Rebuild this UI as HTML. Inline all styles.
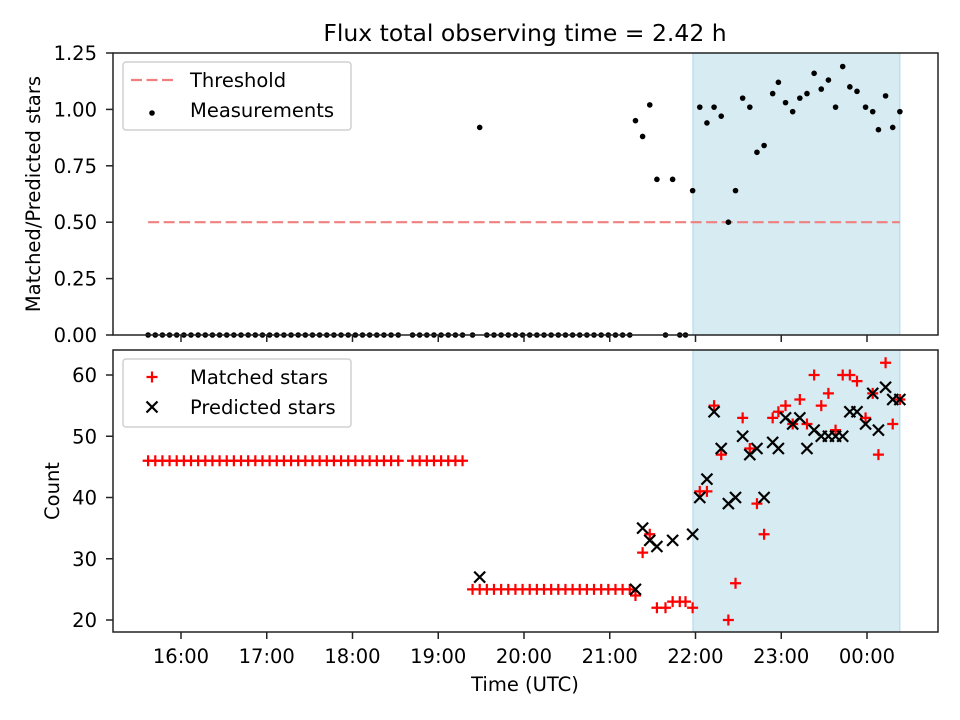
<!DOCTYPE html>
<html><head><meta charset="utf-8"><style>
body{margin:0;background:#fff}
svg{display:block;font-family:"DejaVu Sans","Liberation Sans",sans-serif}
</style></head><body>
<svg id="chart" width="960" height="720" viewBox="0 0 960 720" xmlns="http://www.w3.org/2000/svg"></svg>
<script>
const times = [-23,-18,-13,-8,-3,2,7,12,17,22,27,32,37,42,47,52,57,62,67,72,77,82,87,92,97,102,107,112,117,122,127,132,137,142,147,152,
162,167,172,177,182,187,192,197,
204,209,214,219,224,229,234,239,244,249,254,259,264,269,274,279,284,289,294,299,304,309,314,
318,323,328,333,339,344,349,353,358,363,368,373,378,383,388,393,398,403,408,414,418,423,428,433,438,443,448,453,458,463,468,473,479,484,488,493,498,503];
const ratioGroups = [
 [0,0,0,0,0,0,0,0,0,0,0,0,0,0,0,0,0,0,0,0,0,0,0,0,0,0,0,0,0,0,0,0,0,0,0,0],
 [0,0,0,0,0,0,0,0],
 [0,0.92,0,0,0,0,0,0,0,0,0,0,0,0,0,0,0,0,0,0,0,0,0],
 [.95,.88,1.02,.69,0,.69,0,0,.64,1.01,.94,1.01,.97,.50,.64,1.05,1.01,.81,.84,1.07,1.12,1.03,.99,1.05,1.07,1.16,1.09,1.13,1.01,1.19,1.10,1.08,1.01,.99,.91,1.06,.92,.99]
];
const matchedGroups = [
 [46,46,46,46,46,46,46,46,46,46,46,46,46,46,46,46,46,46,46,46,46,46,46,46,46,46,46,46,46,46,46,46,46,46,46,46],
 [46,46,46,46,46,46,46,46],
 [25,25,25,25,25,25,25,25,25,25,25,25,25,25,25,25,25,25,25,25,25,25,25],
 [24,31,34,22,22,23,23,23,22,41,41,55,47,20,26,53,48,39,34,53,54,55,52,56,52,60,55,57,51,60,60,59,53,57,47,62,52,56]
];
const predictedGroups = [
 new Array(36).fill(null),
 new Array(8).fill(null),
 [null,27,null,null,null,null,null,null,null,null,null,null,null,null,null,null,null,null,null,null,null,null,null],
 [25,35,33,32,null,33,null,null,34,40,43,54,48,39,40,50,47,48,40,49,48,53,52,53,48,51,50,50,50,50,54,54,52,57,51,58,56,56]
];
const ratio = [].concat(...ratioGroups);
const matched = [].concat(...matchedGroups);
const predicted = [].concat(...predictedGroups);
const xTickMinutes = [0,60,120,180,240,300,360,420,480];
const xTickLabels = ["16:00","17:00","18:00","19:00","20:00","21:00","22:00","23:00","00:00"];
const topTicks = [0,0.25,0.5,0.75,1.0,1.25];
const topTickLabels = ["0.00","0.25","0.50","0.75","1.00","1.25"];
const botTicks = [20,30,40,50,60];
const threshold = 0.5;
const shadeStart = 358.2, shadeEnd = 503;

const svg = document.getElementById('chart');
const NS = 'http://www.w3.org/2000/svg';
function mk(tag, attrs, parent){const e=document.createElementNS(NS,tag);for(const k in attrs)e.setAttribute(k,attrs[k]);(parent||svg).appendChild(e);return e;}
const L=113,R=938, T1=53,B1=335, T2=350,B2=632;
const FS = 19.5;
const xs = t => 181 + (t)*85.75/60;
const y1 = v => B1 - v/1.25*(B1-T1);
const y2 = v => 620 - (v-20)*6.125;

let t = mk('text',{x:525,y:41,'text-anchor':'middle','font-size':'23.5'}); t.textContent='Flux total observing time = 2.42 h';
 

function panel(top,bot,name){
  const g = mk('g',{});  
  const sh = mk('rect',{x:xs(shadeStart),y:top,width:xs(shadeEnd)-xs(shadeStart),height:bot-top,fill:'#add8e6','fill-opacity':0.5,stroke:'#add8e6','stroke-width':1},g);
   
  return g;
}
const gTop = panel(T1,B1,'ratio-panel');
const gBot = panel(T2,B2,'count-panel');

const th = mk('line',{x1:xs(-23),x2:xs(503),y1:y1(threshold),y2:y1(threshold),stroke:'#f08080','stroke-width':2.2,'stroke-dasharray':'11,4.5'},gTop);
 

for(let i=0;i<times.length;i++){
  const c = mk('circle',{cx:xs(times[i]),cy:y1(ratio[i]),r:2.8,fill:'#000'},gTop);
   
}
for(let i=0;i<times.length;i++){
  if(matched[i]==null) continue;
  const x=xs(times[i]), y=y2(matched[i]);
  const p = mk('path',{d:`M${x-5.5},${y}H${x+5.5}M${x},${y-5.5}V${y+5.5}`,stroke:'#f00','stroke-width':2.2},gBot);
   
}
for(let i=0;i<times.length;i++){
  if(predicted[i]==null) continue;
  const x=xs(times[i]), y=y2(predicted[i]);
  const p = mk('path',{d:`M${x-5.5},${y-5.5}L${x+5.5},${y+5.5}M${x-5.5},${y+5.5}L${x+5.5},${y-5.5}`,stroke:'#000','stroke-width':2.2},gBot);
   
}

[[T1,B1,'ratio-axes-frame'],[T2,B2,'count-axes-frame']].forEach(([a,b,n])=>{
  const r = mk('rect',{x:L,y:a,width:R-L,height:b-a,fill:'none',stroke:'#222','stroke-width':1.5});
   
});
xTickMinutes.forEach((m,i)=>{
  const x=xs(m);
  mk('line',{x1:x,x2:x,y1:B1,y2:B1+7,stroke:'#222','stroke-width':1.5});
  mk('line',{x1:x,x2:x,y1:B2,y2:B2+7,stroke:'#222','stroke-width':1.5});
  const tx = mk('text',{x:x,y:663,'text-anchor':'middle','font-size':FS}); tx.textContent=xTickLabels[i];
   
});
topTicks.forEach((v,i)=>{
  const y=y1(v);
  mk('line',{x1:L-7,x2:L,y1:y,y2:y,stroke:'#222','stroke-width':1.5});
  const tx = mk('text',{x:L-16,y:y+7,'text-anchor':'end','font-size':FS}); tx.textContent=topTickLabels[i];
   
});
botTicks.forEach(v=>{
  const y=y2(v);
  mk('line',{x1:L-7,x2:L,y1:y,y2:y,stroke:'#222','stroke-width':1.5});
  const tx = mk('text',{x:L-16,y:y+7,'text-anchor':'end','font-size':FS}); tx.textContent=String(v);
   
});
let a1 = mk('text',{x:0,y:0,transform:'translate(40,194) rotate(-90)','text-anchor':'middle','font-size':FS}); a1.textContent='Matched/Predicted stars';
 
let a2 = mk('text',{x:0,y:0,transform:'translate(59,491) rotate(-90)','text-anchor':'middle','font-size':FS}); a2.textContent='Count';
 
let a3 = mk('text',{x:525,y:691,'text-anchor':'middle','font-size':FS}); a3.textContent='Time (UTC)';
 

function legend(y0,name,entries){
  const g = mk('g',{});  
  mk('rect',{x:123,y:y0,width:228,height:68,rx:3,fill:'#fff','fill-opacity':0.8,stroke:'#d0d0d0','stroke-width':1.5},g);
  entries.forEach((e,i)=>{
    const cy=y0+18+i*30;
    e.draw(g,152,cy);
    const tx=mk('text',{x:190,y:cy+7,'font-size':FS},g); tx.textContent=e.label;
     
  });
}
legend(62,'ratio-legend',[
  {label:'Threshold',draw:(g,x,y)=>mk('line',{x1:x-21,x2:x+22,y1:y,y2:y,stroke:'#f08080','stroke-width':2.2,'stroke-dasharray':'11,4.5'},g)},
  {label:'Measurements',draw:(g,x,y)=>mk('circle',{cx:x,cy:y+3,r:2.8,fill:'#000'},g)}
]);
legend(359,'count-legend',[
  {label:'Matched stars',draw:(g,x,y)=>mk('path',{d:`M${x-5.5},${y}H${x+5.5}M${x},${y-5.5}V${y+5.5}`,stroke:'#f00','stroke-width':2.2},g)},
  {label:'Predicted stars',draw:(g,x,y)=>mk('path',{d:`M${x-5.5},${y-5.5}L${x+5.5},${y+5.5}M${x-5.5},${y+5.5}L${x+5.5},${y-5.5}`,stroke:'#000','stroke-width':2.2},g)}
]);
</script>
</body></html>
